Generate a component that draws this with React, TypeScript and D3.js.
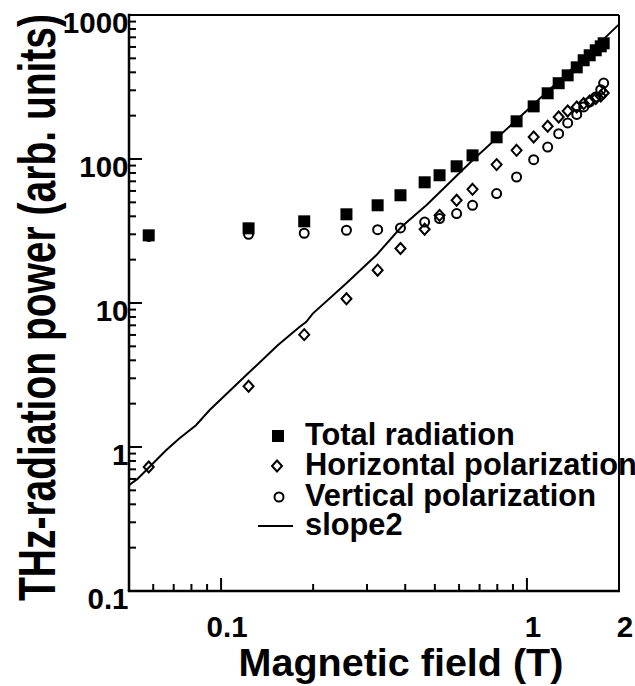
import React from 'react';
import * as d3 from 'd3';

// Magnetic field (T)
const fieldT = [0.058, 0.123, 0.187, 0.257, 0.325, 0.386, 0.463, 0.518, 0.589, 0.664, 0.796, 0.925, 1.052, 1.169, 1.27, 1.359, 1.455, 1.533, 1.604, 1.679, 1.743, 1.782];
// THz radiation power (arb. units)
const totalRadiation = [29.5, 33.0, 36.9, 41.3, 47.7, 56.0, 68.9, 77.1, 89.0, 106, 141.5, 182.7, 232, 286, 336, 381, 433, 485, 525, 569, 606, 636];
const horizontalPol = [0.726, 2.64, 6.03, 10.7, 16.9, 23.9, 32.5, 40.6, 51.7, 61.6, 91.4, 114.9, 142.2, 168.7, 195.7, 215.5, 229.7, 242.5, 252.8, 262.7, 273.9, 287.3];
const verticalPol = [29, 30.0, 30.5, 32.0, 32.3, 33.2, 36.5, 38.6, 41.8, 47.7, 57.5, 75.0, 99.0, 121, 150, 178, 204, 230, 249, 270, 303, 337];

// slope2 reference line
const slopeField = [0.05, 0.0534, 0.0661, 0.073, 0.0828, 0.0916, 0.1207, 0.1532, 0.1804, 0.1897, 0.1994, 0.2564, 0.3215, 0.3882, 0.47, 0.664, 1.052, 1.604, 2.0];
const slopePower = [0.542, 0.603, 0.949, 1.144, 1.415, 1.798, 3.147, 5.085, 6.81, 7.38, 8.44, 13.64, 21.44, 33.7, 48, 97.9, 239.8, 550, 861];

const xTickValues = [0.1, 1, 2];
const xTickLabels = ['0.1', '1', '2'];
const yTickValues = [0.1, 1, 10, 100, 1000];
const yTickLabels = ['0.1', '1', '10', '100', '1000'];

const legendLabels = ['Total radiation', 'Horizontal polarization', 'Vertical polarization', 'slope2'];

const W = 635;
const H = 686;
const FONT = "'Liberation Sans', Arial, Helvetica, sans-serif";

export default function App() {
  const x = d3.scaleLog().domain([0.05, 2]).range([129, 619]);
  const y = d3.scaleLog().domain([0.1, 1000]).range([591, 15]);

  const xMinor = x.ticks().filter((v) => v > 0.05 * 1.001 && v < 2 * 0.999);
  const yMinor = y.ticks().filter((v) => v > 0.1 * 1.001 && v < 1000 * 0.999);
  const isMajor = (v: number) => Math.abs(Math.log10(v) - Math.round(Math.log10(v))) < 1e-6;

  const line = d3
    .line<number>()
    .x((_, i) => x(slopeField[i]))
    .y((d) => y(d));

  const sq = 12;
  const dia = (cx: number, cy: number) => `M${cx},${cy - 5.5}L${cx + 5},${cy}L${cx},${cy + 5.5}L${cx - 5},${cy}Z`;

  const legX = 278;
  const legTextX = 305;
  const legBase = [445, 475, 506, 535];

  return (
    <svg
      width={W}
      height={H}
      style={{ position: 'absolute', left: 0, top: 0, background: '#fff' }}
      fontFamily={FONT}
    >
      <rect x={0} y={0} width={W} height={H} fill="#fff" />

      {/* slope2 line */}
      <path d={line(slopePower) || ''} fill="none" stroke="#000" strokeWidth={2} />

      {/* vertical polarization circles */}
      {fieldT.map((f, i) => (
        <circle key={'c' + i} cx={x(f)} cy={y(verticalPol[i])} r={4.5} fill="none" stroke="#000" strokeWidth={2} />
      ))}
      {/* horizontal polarization diamonds */}
      {fieldT.map((f, i) => (
        <path key={'d' + i} d={dia(x(f), y(horizontalPol[i]))} fill="none" stroke="#000" strokeWidth={2} />
      ))}
      {/* total radiation squares */}
      {fieldT.map((f, i) => (
        <rect key={'s' + i} x={x(f) - sq / 2} y={y(totalRadiation[i]) - sq / 2} width={sq} height={sq} fill="#000" />
      ))}

      {/* legend */}
      <rect x={legX - sq / 2} y={legBase[0] - 9 - sq / 2} width={sq} height={sq} fill="#000" />
      <path d={dia(legX - 1, legBase[1] - 9)} fill="none" stroke="#000" strokeWidth={2} />
      <circle cx={legX + 1} cy={legBase[2] - 9} r={4.5} fill="none" stroke="#000" strokeWidth={2} />
      <line x1={258} x2={293} y1={legBase[3] - 9} y2={legBase[3] - 9} stroke="#000" strokeWidth={2} />
      {legendLabels.map((t, i) => (
        <text key={'lg' + i} x={legTextX} y={legBase[i]} fontSize={30.8} fontWeight="bold">
          {t}
        </text>
      ))}

      {/* frame */}
      <line x1={129} y1={15} x2={619} y2={15} stroke="#000" strokeWidth={2} />
      <line x1={619} y1={15} x2={619} y2={591} stroke="#000" strokeWidth={2} />
      <line x1={129} y1={13.8} x2={129} y2={591} stroke="#000" strokeWidth={2.5} />
      <line x1={127.8} y1={591} x2={620} y2={591} stroke="#000" strokeWidth={2.5} />

      {/* x ticks */}
      {xMinor.map((v, i) => (
        <line key={'xt' + i} x1={x(v)} x2={x(v)} y1={591} y2={591 - (isMajor(v) ? 13 : 7)} stroke="#000" strokeWidth={2} />
      ))}
      {/* y ticks */}
      {yMinor.map((v, i) => (
        <line key={'yt' + i} x1={129} x2={129 + (isMajor(v) ? 13 : 7)} y1={y(v)} y2={y(v)} stroke="#000" strokeWidth={2} />
      ))}

      {/* tick labels */}
      {xTickValues.map((v, i) => (
        <text key={'xl' + i} x={x(v) + 6} y={637} textAnchor="middle" fontSize={29.5} fontWeight="bold">
          {xTickLabels[i]}
        </text>
      ))}
      {yTickValues.map((v, i) => (
        <text key={'yl' + i} x={128.5} y={y(v) + 18} textAnchor="end" fontSize={29.5} fontWeight="bold">
          {yTickLabels[i]}
        </text>
      ))}

      {/* axis titles */}
      <text x={401} y={676} textAnchor="middle" fontSize={39.5} fontWeight="bold">
        Magnetic field (T)
      </text>
      <text
        transform={`translate(55,307.5) rotate(-90) scale(1,1.33)`}
        textAnchor="middle"
        fontSize={39}
        fontWeight="bold"
      >
        THz-radiation power (arb. units)
      </text>
    </svg>
  );
}
